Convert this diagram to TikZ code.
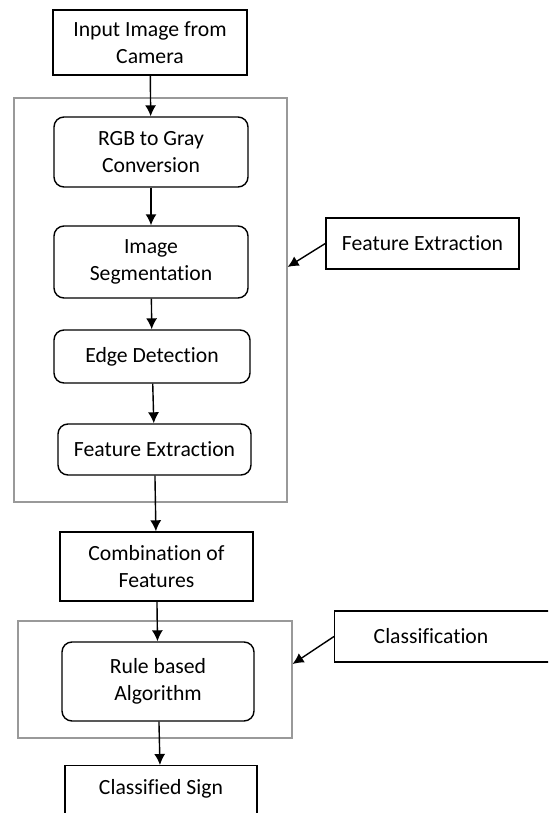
\documentclass[tikz,border=0pt]{standalone}
\usepackage{fontspec}
\setmainfont{Carlito}[Ligatures=NoCommon]
\usepackage{tikz}
\usetikzlibrary{arrows.meta}
\tikzset{>={Latex[width=3.3mm,length=3.3mm]}}

\begin{document}
\begin{tikzpicture}[x=0.03cm, y=-0.03cm, thick,
  plainbox/.style = {draw, line width=1.2pt, rectangle, align=center, font=\fontsize{18.5}{23}\selectfont},
  roundbox/.style = {plainbox, rounded corners=0.3cm},
  groupbox/.style = {draw=gray!80, line width=1pt, rectangle},
  flow/.style = {->, line width=1.2pt}]
\clip (0,0) rectangle (548,813);
% groups
\node[groupbox, minimum width=8.19cm, minimum height=12.12cm] (featgrp) at (150.5,300) {};
\node[groupbox, minimum width=8.22cm, minimum height=3.51cm] (clsgrp) at (155,679.5) {};
% steps
\node[plainbox, minimum width=5.82cm, minimum height=1.95cm] (input) at (150,42.5) {Input Image from\\Camera};
\node[roundbox, minimum width=5.82cm, minimum height=2.1cm] (rgb) at (151,152) {RGB to Gray\\Conversion};
\node[roundbox, minimum width=5.82cm, minimum height=2.16cm] (seg) at (151,262) {Image\\Segmentation};
\node[roundbox, minimum width=5.88cm, minimum height=1.59cm] (edge) at (152,356.5) {Edge Detection};
\node[roundbox, minimum width=5.79cm, minimum height=1.53cm] (featx) at (154.5,449.5) {Feature Extraction};
\node[plainbox, minimum width=5.79cm, minimum height=2.07cm] (comb) at (156.5,566.5) {Combination of\\Features};
\node[roundbox, minimum width=5.76cm, minimum height=2.37cm] (rule) at (158,681.5) {Rule based\\Algorithm};
\node[plainbox, minimum width=5.76cm, anchor=north, text height=0.75cm, text depth=1.6cm] (sign) at (161,765) {Classified Sign};
% labels
\node[plainbox, minimum width=5.79cm, minimum height=1.53cm] (featlabel) at (422.5,243.5) {Feature Extraction};
\node[plainbox, anchor=west, minimum height=1.53cm, inner xsep=1.17cm, text width=5cm, align=left] (clslabel) at (334,636.5) {Classification};
% arrows
\draw[flow] (input) -- (rgb);
\draw[flow] (rgb) -- (seg);
\draw[flow] (seg) -- (edge);
\draw[flow] (edge) -- (featx);
\draw[flow] (featx) -- (comb);
\draw[flow] (comb) -- (rule);
\draw[flow] (rule) -- (sign);
\draw[flow] (featlabel.west) -- ([yshift=0.99cm]featgrp.east);
\draw[flow] (clslabel.west) -- ([yshift=0.465cm]clsgrp.east);
\end{tikzpicture}
\end{document}
